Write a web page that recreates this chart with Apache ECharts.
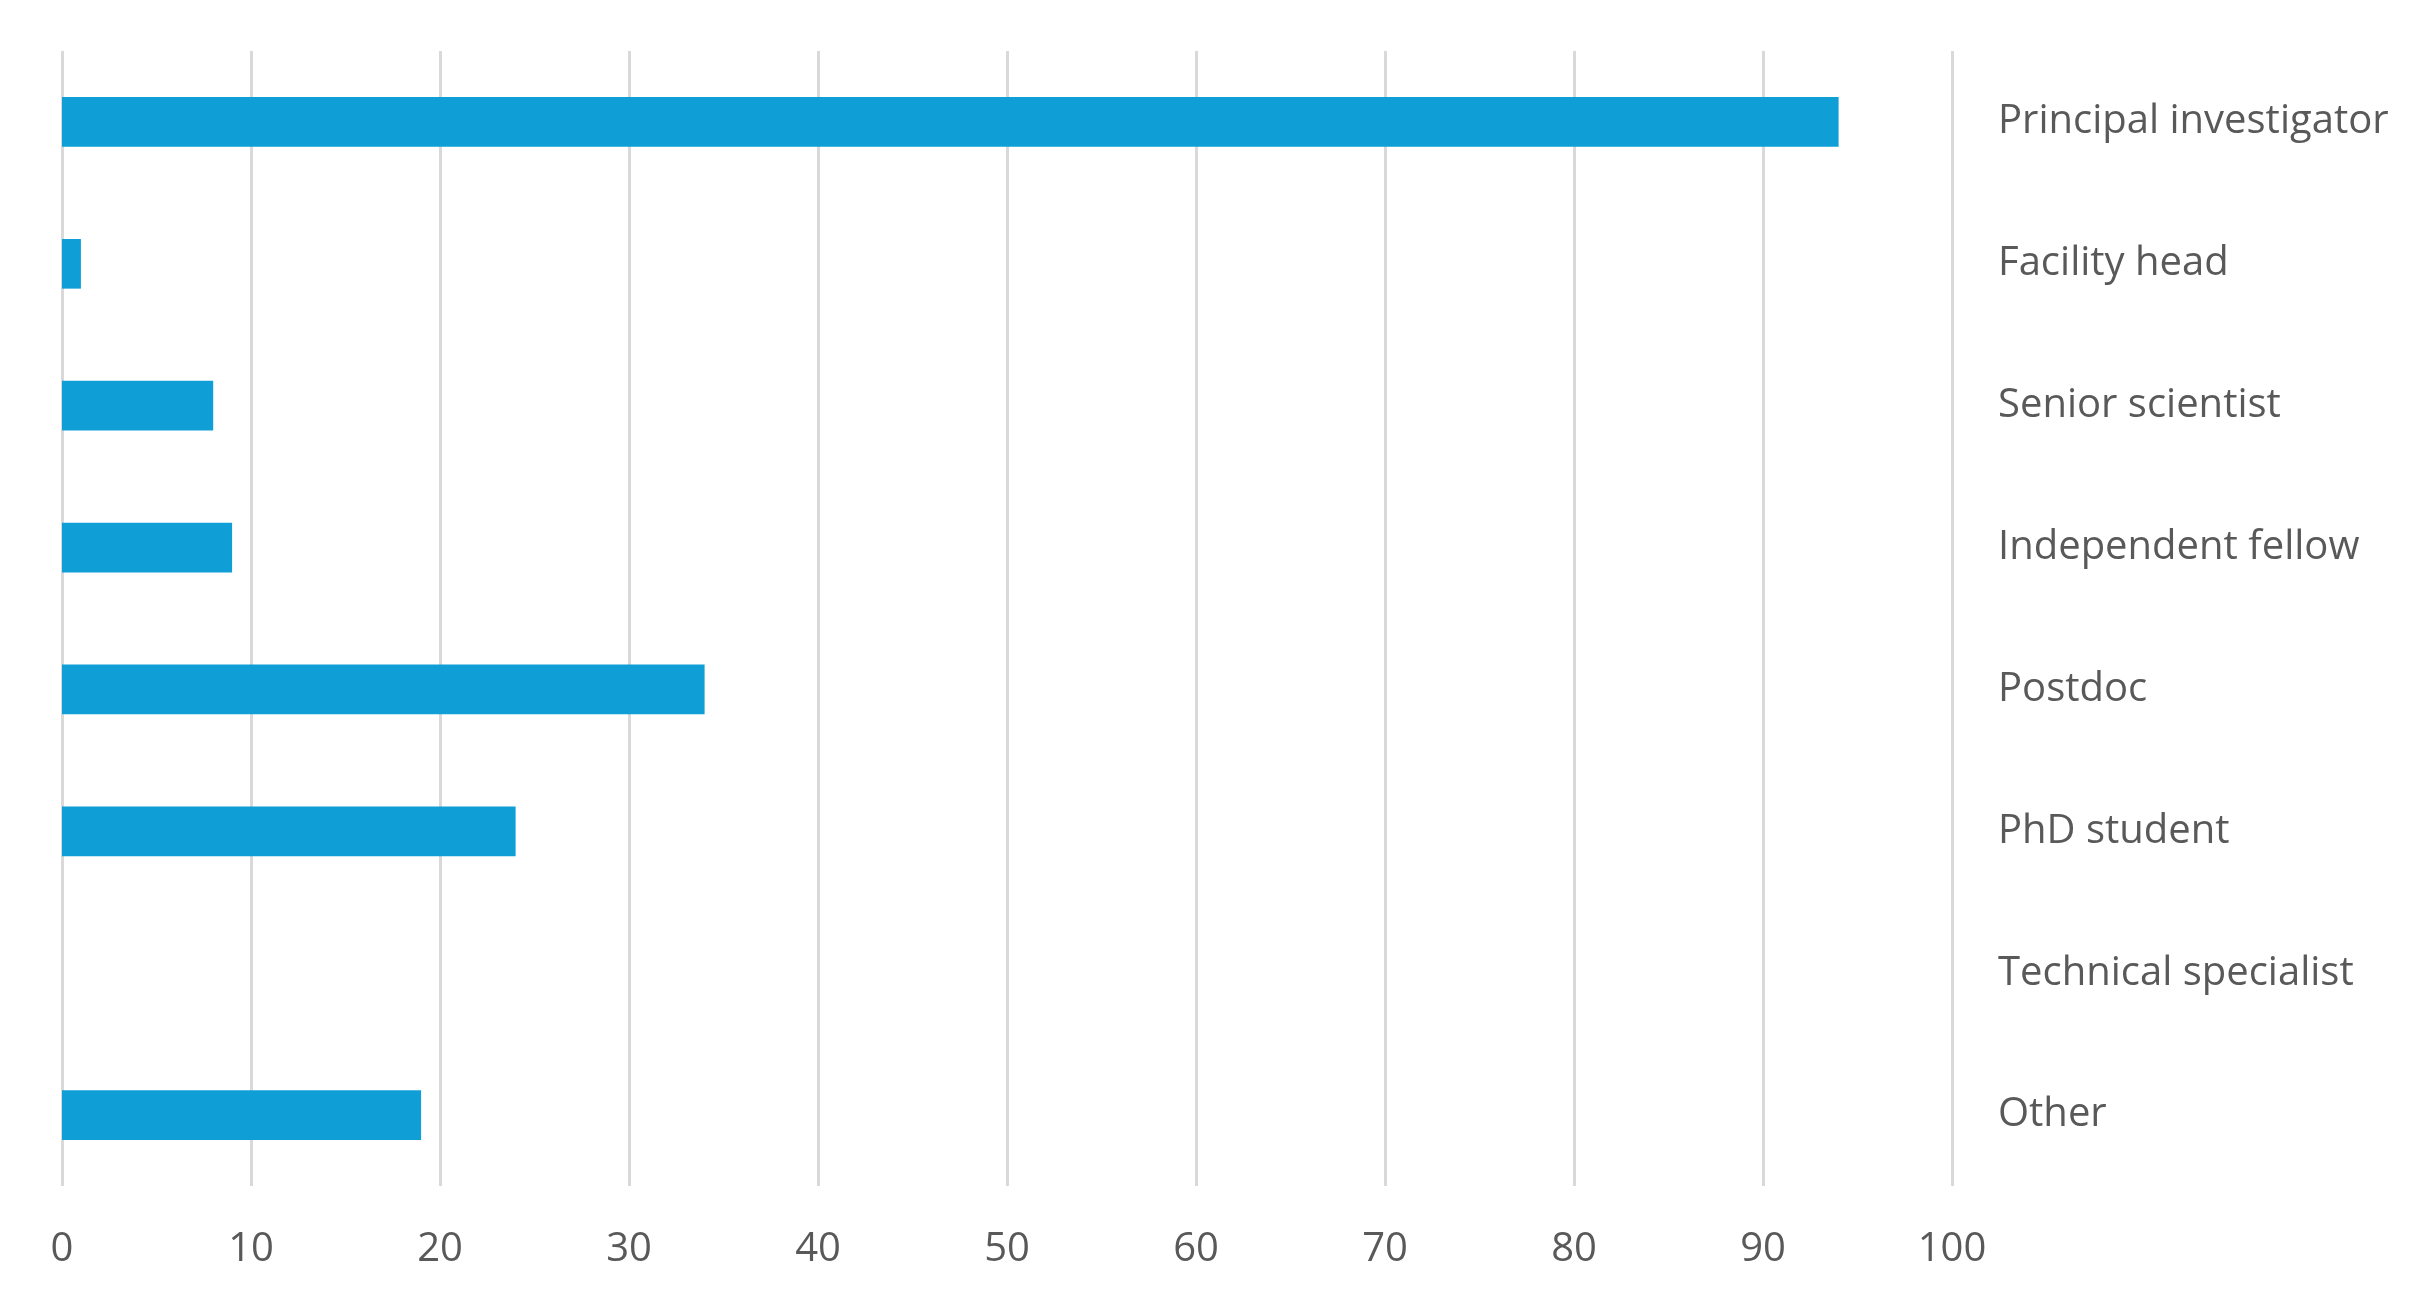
<!DOCTYPE html>
<html>
<head>
<meta charset="utf-8">
<script src="https://cdn.jsdelivr.net/npm/echarts@6/dist/echarts.min.js"></script>
<style>
  html, body { margin: 0; padding: 0; background: #ffffff; }
  #chart { width: 2428px; height: 1307px; }
</style>
</head>
<body>
<div id="chart"></div>
<script>
'use strict';

//categories, top to bottom
var roles = [
  'Principal investigator',
  'Facility head',
  'Senior scientist',
  'Independent fellow',
  'Postdoc',
  'PhD student',
  'Technical specialist',
  'Other'
];

//counts per role
var counts = [94, 1, 8, 9, 34, 24, 0, 19];

//value axis ticks
var valueMin = 0;
var valueMax = 100;
var valueStep = 10;

var chart = echarts.init(document.getElementById('chart'));

chart.setOption({
  animation: false,
  backgroundColor: '#ffffff',
  textStyle: { fontFamily: 'Open Sans' },
  grid: {
    left: 62,
    right: 476,
    top: 51,
    bottom: 121,
    containLabel: false
  },
  xAxis: {
    type: 'value',
    min: valueMin,
    max: valueMax,
    interval: valueStep,
    axisLine: { show: false },
    axisTick: { show: false },
    axisLabel: {
      color: '#595959',
      fontSize: 40,
      margin: 44
    },
    splitLine: {
      show: true,
      lineStyle: { color: '#d9d9d9', width: 3 }
    }
  },
  yAxis: {
    type: 'category',
    data: roles,
    inverse: true,
    position: 'right',
    axisLine: { show: false },
    axisTick: { show: false },
    splitLine: { show: false },
    axisLabel: {
      color: '#595959',
      fontSize: 40,
      margin: 46,
      align: 'left'
    }
  },
  series: [
    {
      type: 'bar',
      data: counts,
      barWidth: '35%',
      itemStyle: { color: '#0F9ED5' }
    }
  ]
});
</script>
</body>
</html>
